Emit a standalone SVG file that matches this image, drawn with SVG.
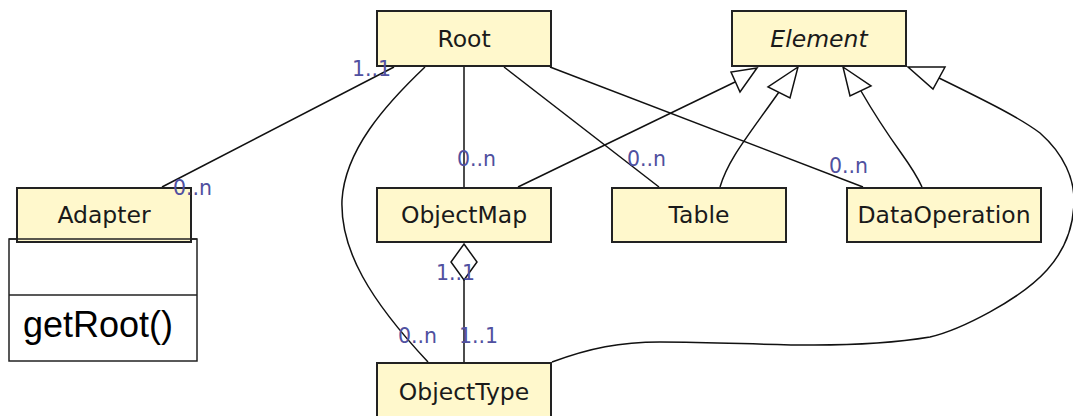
<svg xmlns="http://www.w3.org/2000/svg" width="1073" height="416" viewBox="0 0 1073 416">
  <style>
    .box{fill:#fff8cc;stroke:#222;stroke-width:2}
    .name{font-family:"DejaVu Sans",sans-serif;font-size:23.5px;fill:#1a1a1a;text-anchor:middle}
    .abstract{font-style:italic}
    .edge{fill:none;stroke:#111;stroke-width:1.5}
    .head{fill:#fff;stroke:#111;stroke-width:1.5;stroke-linejoin:miter}
    .mult{font-family:"DejaVu Sans",sans-serif;font-size:20.5px;fill:#5050a0}
    .compartment{fill:#fff;stroke:#222;stroke-width:1.5}
    .op{font-family:"Liberation Sans",Arial,sans-serif;font-size:36px;fill:#000}
  </style>

  <!-- associations, composition and generalizations -->
  <g id="connectors">
    <path class="edge" d="M394,67 L162,187"/>
    <path class="edge" d="M464,67 L464,187"/>
    <path class="edge" d="M504,67 L659,187"/>
    <path class="edge" d="M550,67 L863,187"/>
    <path class="edge" d="M425,67 C385,105 345,150 342,200 C340,250 370,300 428,362"/>
    <!-- ObjectMap owns ObjectType -->
    <path class="edge" d="M464,280 L464,362"/>
    <polygon class="head" points="464,244 477,262 464,280 451,262"/>
    <!-- subclasses of Element -->
    <path class="edge" d="M518,187 L735,82"/>
    <polygon class="head" points="757,68 731,72 740,92"/>
    <path class="edge" d="M720,187 C728,160 745,140 779,92"/>
    <polygon class="head" points="798,67 768,87 790,98"/>
    <path class="edge" d="M922,187 C910,160 895,150 861,91"/>
    <polygon class="head" points="843,67 871,86 850,96"/>
    <path class="edge" d="M552,362 C590,348 620,342 660,342 C720,342 760,345 814,345 C860,345 900,342 930,337 C960,330 1020,300 1047,270 C1065,250 1074,225 1074,200 C1074,180 1065,155 1040,133 C1020,118 990,103 939,78"/>
    <polygon class="head" points="908,67 945,67 933,89"/>
  </g>

  <g id="root">
    <rect class="box" x="377" y="11" width="174" height="55"/>
    <text class="name" x="464" y="47">Root</text>
  </g>

  <g id="element">
    <rect class="box" x="732" y="11" width="174" height="55"/>
    <text class="name abstract" x="819" y="47">Element</text>
  </g>

  <g id="adapter">
    <rect class="compartment" x="9" y="239" width="188" height="122"/>
    <line class="compartment" x1="9" y1="295" x2="197" y2="295"/>
    <text class="op" x="23" y="337">getRoot()</text>
    <rect class="box" x="17" y="188" width="174" height="54"/>
    <text class="name" x="104" y="223">Adapter</text>
    <line class="compartment" x1="9" y1="239" x2="197" y2="239"/>
  </g>

  <g id="objectmap">
    <rect class="box" x="377" y="188" width="174" height="54"/>
    <text class="name" x="464" y="223">ObjectMap</text>
  </g>

  <g id="table">
    <rect class="box" x="612" y="188" width="174" height="54"/>
    <text class="name" x="699" y="223">Table</text>
  </g>

  <g id="dataoperation">
    <rect class="box" x="847" y="188" width="194" height="54"/>
    <text class="name" x="944" y="223">DataOperation</text>
  </g>

  <g id="objecttype">
    <rect class="box" x="377" y="363" width="174" height="60"/>
    <text class="name" x="464" y="400">ObjectType</text>
  </g>

  <!-- multiplicities at association ends -->
  <g id="multiplicities">
    <text class="mult" x="352" y="76">1..1</text>
    <text class="mult" x="173" y="195">0..n</text>
    <text class="mult" x="457" y="166">0..n</text>
    <text class="mult" x="627" y="166">0..n</text>
    <text class="mult" x="829" y="173">0..n</text>
    <text class="mult" x="436" y="280">1..1</text>
    <text class="mult" x="398" y="343">0..n</text>
    <text class="mult" x="459" y="343">1..1</text>
  </g>
</svg>
